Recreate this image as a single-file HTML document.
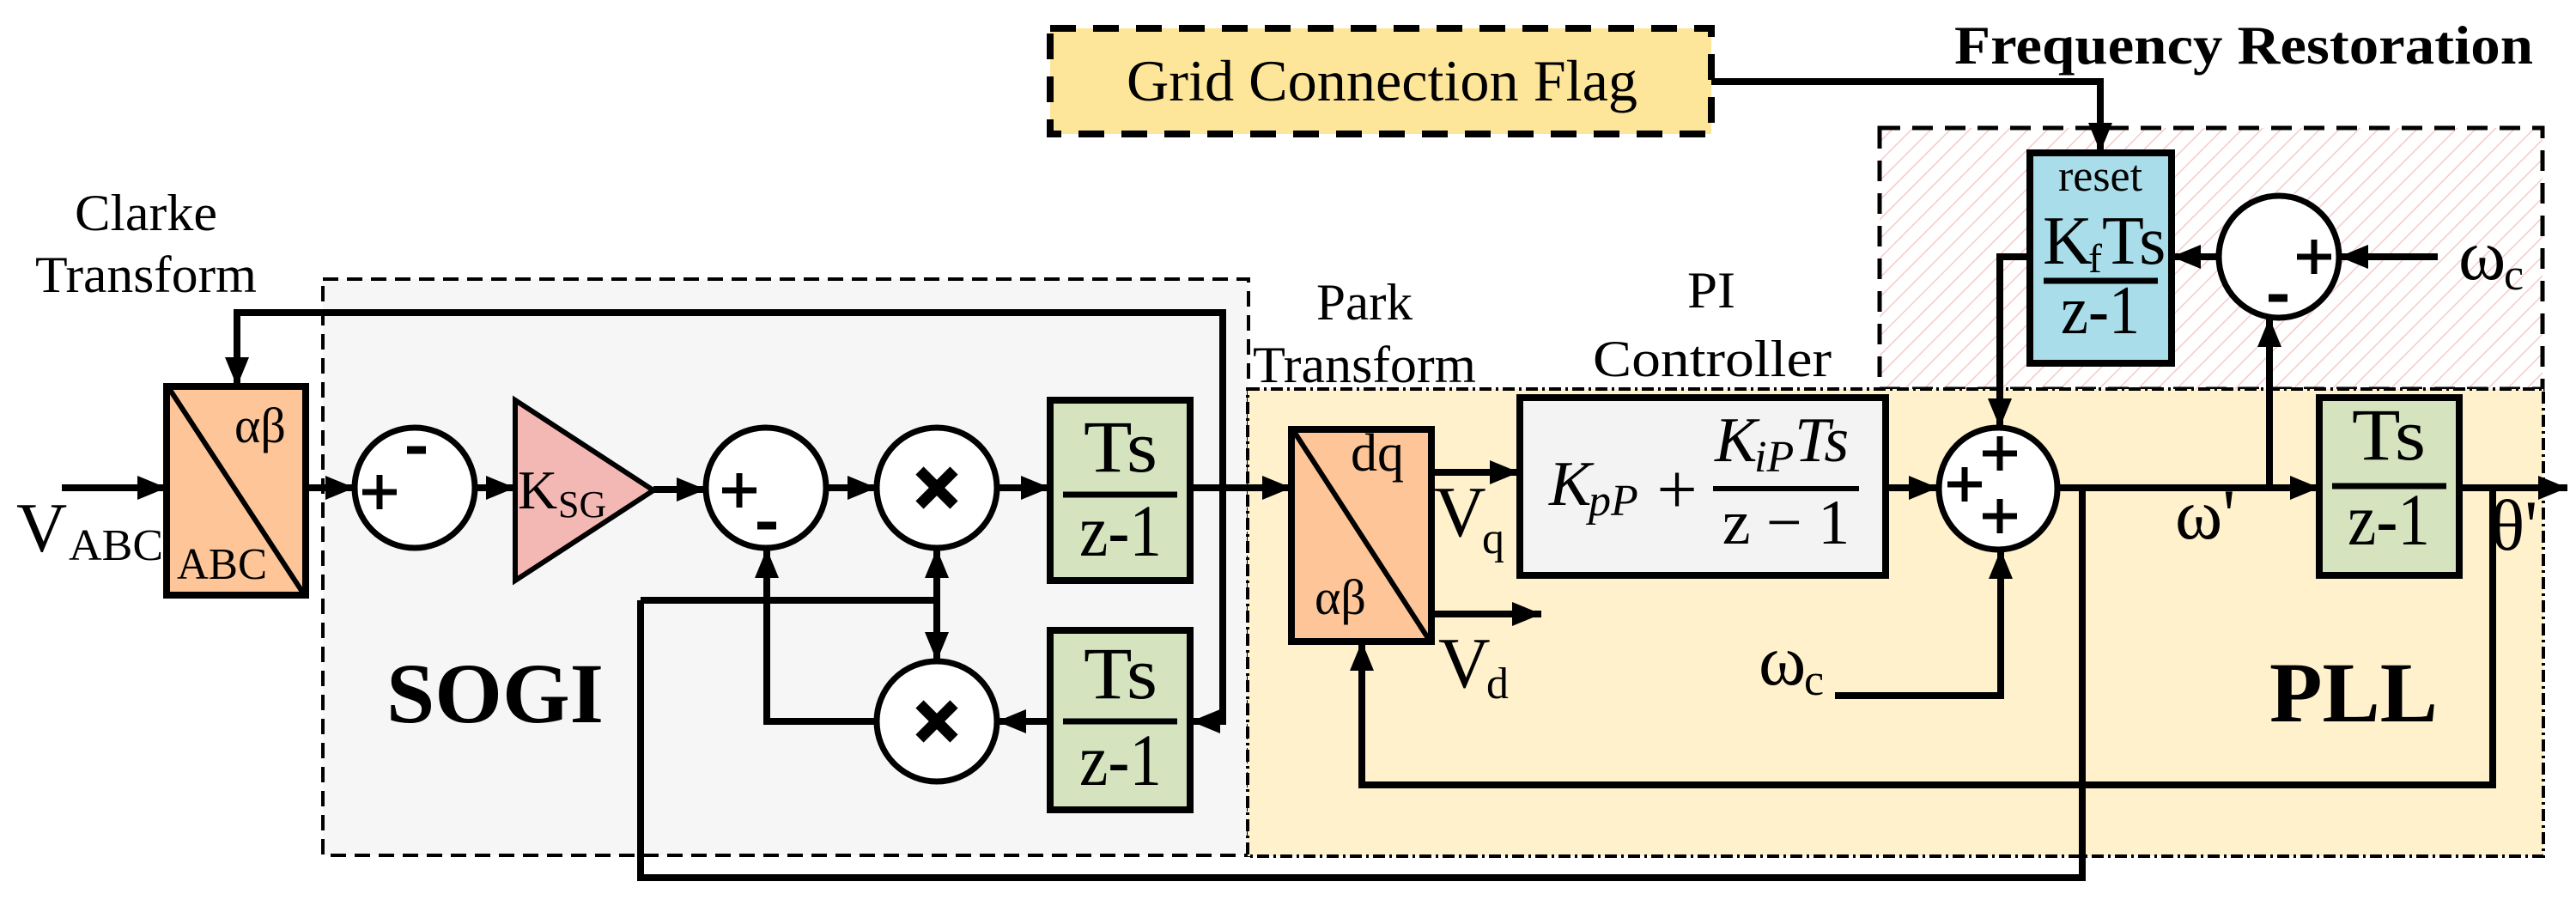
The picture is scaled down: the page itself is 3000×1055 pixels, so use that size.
<!DOCTYPE html>
<html><head><meta charset="utf-8"><style>
html,body{margin:0;padding:0;background:#fff}
svg{display:block}
text{font-family:"Liberation Serif","Times New Roman",Times,serif;fill:#000}
</style></head><body>
<svg width="3000" height="1055" viewBox="0 0 3000 1055" xmlns="http://www.w3.org/2000/svg" font-family="Liberation Serif, Times New Roman, Times, serif">
<defs>
<pattern id="hatch" width="16" height="16" patternUnits="userSpaceOnUse" patternTransform="rotate(45)">
<rect width="16" height="16" fill="#fff"/><line x1="0" y1="0" x2="0" y2="16" stroke="#f6caca" stroke-width="3"/></pattern>
<marker id="ah" markerWidth="34" markerHeight="28" refX="34" refY="14" orient="auto" markerUnits="userSpaceOnUse"><path d="M0,0 L34,14 L0,28 z" fill="#000"/></marker>
</defs>

<rect x="376" y="325" width="1078" height="671" fill="#f6f6f6" stroke="#000" stroke-width="4" stroke-dasharray="18,10"/>
<rect x="2189" y="149" width="772" height="304" fill="url(#hatch)" stroke="#000" stroke-width="5" stroke-dasharray="24,14"/>
<rect x="1453" y="453" width="1509" height="544" fill="#fff1cc" stroke="#000" stroke-width="4" stroke-dasharray="14,5,3,5"/>
<rect x="1223" y="33" width="770" height="123" fill="#fde69a" stroke="#000" stroke-width="8" stroke-dasharray="30,20"/>

<text x="1312" y="117" font-size="68" textLength="595" lengthAdjust="spacingAndGlyphs">Grid Connection Flag</text>
<text x="2276" y="74" font-size="64" font-weight="bold" textLength="674" lengthAdjust="spacingAndGlyphs">Frequency Restoration</text>
<text x="87" y="268" font-size="60" textLength="166" lengthAdjust="spacingAndGlyphs">Clarke</text>
<text x="41" y="340" font-size="60" textLength="258" lengthAdjust="spacingAndGlyphs">Transform</text>
<text x="1533" y="372" font-size="60" textLength="112" lengthAdjust="spacingAndGlyphs">Park</text>
<text x="1459" y="445" font-size="60" textLength="260" lengthAdjust="spacingAndGlyphs">Transform</text>
<text x="1965" y="358" font-size="60" textLength="56" lengthAdjust="spacingAndGlyphs">PI</text>
<text x="1855" y="438" font-size="60" textLength="278" lengthAdjust="spacingAndGlyphs">Controller</text>
<text x="450" y="841" font-size="100" font-weight="bold" textLength="253" lengthAdjust="spacingAndGlyphs">SOGI</text>
<text x="2643" y="840" font-size="100" font-weight="bold" textLength="196" lengthAdjust="spacingAndGlyphs">PLL</text>

<g stroke="#000" stroke-width="8" fill="none">
<line x1="72" y1="568" x2="194" y2="568" marker-end="url(#ah)"/>
<line x1="356" y1="568" x2="413" y2="568" marker-end="url(#ah)"/>
<line x1="553" y1="568" x2="600" y2="568" marker-end="url(#ah)"/>
<line x1="761" y1="570" x2="822" y2="570" marker-end="url(#ah)"/>
<line x1="962" y1="568" x2="1021" y2="568" marker-end="url(#ah)"/>
<line x1="1161" y1="568" x2="1223" y2="568" marker-end="url(#ah)"/>
<line x1="1386" y1="568" x2="1504" y2="568" marker-end="url(#ah)"/>
<polyline points="1424,568 1424,364 276,364 276,450" marker-end="url(#ah)"/>
<polyline points="1424,568 1424,840 1387,840" marker-end="url(#ah)"/>
<line x1="1223" y1="840" x2="1161" y2="840" marker-end="url(#ah)"/>
<polyline points="1021,840 893,840 893,639" marker-end="url(#ah)"/>
<line x1="746" y1="699" x2="1091" y2="699"/>
<line x1="1091" y1="699" x2="1091" y2="639" marker-end="url(#ah)"/>
<line x1="1091" y1="699" x2="1091" y2="770" marker-end="url(#ah)"/>
<polyline points="746,699 746,1022 2425,1022 2425,568"/>
<line x1="1667" y1="550" x2="1769" y2="550" marker-end="url(#ah)"/>
<line x1="1667" y1="715" x2="1795" y2="715" marker-end="url(#ah)"/>
<line x1="2196" y1="568" x2="2257" y2="568" marker-end="url(#ah)"/>
<line x1="2396" y1="568" x2="2701" y2="568" marker-end="url(#ah)"/>
<line x1="2643" y1="568" x2="2643" y2="370" marker-end="url(#ah)"/>
<polyline points="2137,810 2330,810 2330,640" marker-end="url(#ah)"/>
<polyline points="2364,299 2329,299 2329,498" marker-end="url(#ah)"/>
<line x1="2584" y1="299" x2="2529" y2="299" marker-end="url(#ah)"/>
<line x1="2839" y1="299" x2="2724" y2="299" marker-end="url(#ah)"/>
<polyline points="1993,95 2446,95 2446,177" marker-end="url(#ah)"/>
<line x1="2864" y1="568" x2="2990" y2="568" marker-end="url(#ah)"/>
<polyline points="2903,568 2903,914 1586,914 1586,747" marker-end="url(#ah)"/>
</g>

<rect x="194" y="450" width="162" height="243" fill="#fdc598" stroke="#000" stroke-width="8"/>
<line x1="198" y1="454" x2="352" y2="689" stroke="#000" stroke-width="6"/>
<text x="273" y="515" font-size="58">αβ</text>
<text x="206" y="674" font-size="52" textLength="105" lengthAdjust="spacingAndGlyphs">ABC</text>
<text x="19" y="642" font-size="82">V</text>
<text x="80" y="652" font-size="52" textLength="110" lengthAdjust="spacingAndGlyphs">ABC</text>

<g fill="#fff" stroke="#000" stroke-width="7">
<ellipse cx="483" cy="568" rx="70" ry="70"/>
<ellipse cx="892" cy="568" rx="70" ry="70"/>
<ellipse cx="1091" cy="568" rx="70" ry="70"/>
<ellipse cx="1091" cy="840" rx="70" ry="70"/>
<ellipse cx="2327" cy="569" rx="69" ry="71"/>
<ellipse cx="2654" cy="299" rx="70" ry="71"/>
</g>
<g stroke="#000" stroke-width="7">
<line x1="422" y1="573" x2="462" y2="573"/><line x1="442" y1="553" x2="442" y2="593"/>
<line x1="474" y1="524" x2="496" y2="524" stroke-width="9"/>
<line x1="841" y1="571" x2="881" y2="571"/><line x1="861" y1="551" x2="861" y2="591"/>
<line x1="882" y1="612" x2="904" y2="612" stroke-width="9"/>
<line x1="2309" y1="528" x2="2349" y2="528"/><line x1="2329" y1="508" x2="2329" y2="548"/>
<line x1="2268" y1="564" x2="2308" y2="564"/><line x1="2288" y1="544" x2="2288" y2="584"/>
<line x1="2309" y1="601" x2="2349" y2="601"/><line x1="2329" y1="581" x2="2329" y2="621"/>
<line x1="2675" y1="299" x2="2715" y2="299"/><line x1="2695" y1="279" x2="2695" y2="319"/>
<line x1="2642" y1="347" x2="2664" y2="347" stroke-width="9"/>
<g stroke-width="13"><line x1="1071" y1="548" x2="1111" y2="588"/><line x1="1111" y1="548" x2="1071" y2="588"/>
<line x1="1071" y1="820" x2="1111" y2="860"/><line x1="1111" y1="820" x2="1071" y2="860"/></g>
</g>

<polygon points="600,466 600,676 761,571" fill="#f4b8b4" stroke="#000" stroke-width="6"/>
<text x="603" y="592" font-size="64">K</text><text x="650" y="602" font-size="44">SG</text>

<g stroke="#000" stroke-width="8" fill="#d5e3bf">
<rect x="1223" y="466" width="163" height="210"/>
<rect x="1223" y="734" width="163" height="209"/>
<rect x="2701" y="463" width="163" height="207"/>
</g>
<g stroke="#000" stroke-width="7">
<line x1="1238" y1="576" x2="1371" y2="576"/>
<line x1="1238" y1="840" x2="1371" y2="840"/>
<line x1="2716" y1="566" x2="2849" y2="566"/>
</g>
<g font-size="86">
<text x="1262" y="549" textLength="86" lengthAdjust="spacingAndGlyphs">Ts</text><text x="1257" y="647" textLength="96" lengthAdjust="spacingAndGlyphs">z-1</text>
<text x="1262" y="813" textLength="86" lengthAdjust="spacingAndGlyphs">Ts</text><text x="1257" y="914" textLength="96" lengthAdjust="spacingAndGlyphs">z-1</text>
<text x="2739" y="535" textLength="86" lengthAdjust="spacingAndGlyphs">Ts</text><text x="2734" y="634" textLength="96" lengthAdjust="spacingAndGlyphs">z-1</text>
</g>

<rect x="1504" y="500" width="163" height="247" fill="#fdc598" stroke="#000" stroke-width="8"/>
<line x1="1508" y1="504" x2="1663" y2="743" stroke="#000" stroke-width="6"/>
<text x="1573" y="548" font-size="62">dq</text>
<text x="1531" y="715" font-size="58">αβ</text>
<text x="1670" y="624" font-size="84">V</text><text x="1726" y="644" font-size="52">q</text>
<text x="1675" y="800" font-size="84">V</text><text x="1731" y="813" font-size="52">d</text>

<rect x="1770" y="463" width="426" height="207" fill="#f3f3f3" stroke="#000" stroke-width="8"/>
<text x="1804" y="588" font-size="74" font-style="italic">K</text>
<text x="1850" y="600" font-size="52" font-style="italic">pP</text>
<text x="1953" y="598" font-size="84" text-anchor="middle">+</text>
<line x1="1995" y1="569" x2="2165" y2="569" stroke="#000" stroke-width="6"/>
<text x="1997" y="537" font-size="74" font-style="italic">K</text>
<text x="2043" y="549" font-size="52" font-style="italic">iP</text>
<text x="2090" y="537" font-size="74" font-style="italic">Ts</text>
<text x="2080" y="633" font-size="74" text-anchor="middle">z − 1</text>

<rect x="2364" y="178" width="165" height="245" fill="#a8dde9" stroke="#000" stroke-width="8"/>
<text x="2397" y="222" font-size="52" textLength="98" lengthAdjust="spacingAndGlyphs">reset</text>
<text x="2379" y="307" font-size="80">K</text><text x="2432" y="317" font-size="48">f</text><text x="2448" y="307" font-size="80">Ts</text>
<line x1="2380" y1="327" x2="2513" y2="327" stroke="#000" stroke-width="7"/>
<text x="2400" y="388" font-size="80" textLength="92" lengthAdjust="spacingAndGlyphs">z-1</text>

<text x="2863" y="325" font-size="84">ω</text><text x="2916" y="337" font-size="52">c</text>
<text x="2048" y="797" font-size="84">ω</text><text x="2101" y="809" font-size="52">c</text>
<text x="2533" y="627" font-size="84">ω'</text>
<text x="2900" y="640" font-size="84">θ'</text>
</svg>
</body></html>
